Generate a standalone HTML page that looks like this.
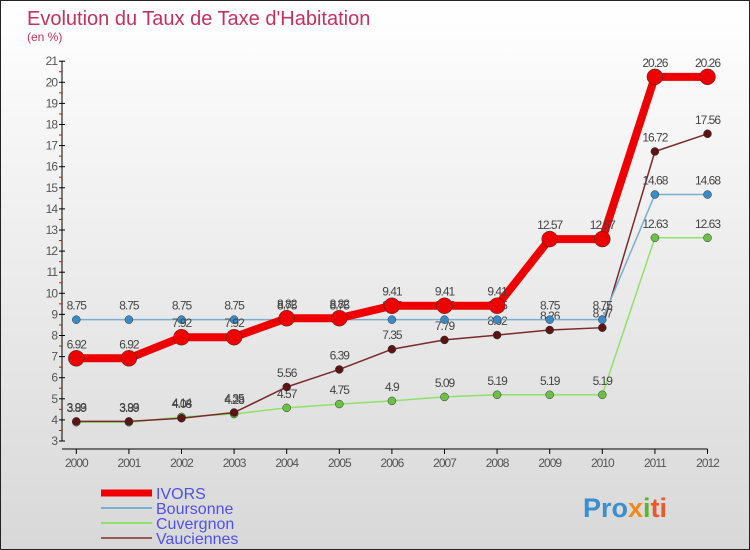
<!DOCTYPE html>
<html><head><meta charset="utf-8"><style>
body{margin:0;}
#c{width:748px;height:548px;border:1px solid #222;background:linear-gradient(#ffffff,#d8d8d8);position:relative;overflow:hidden;font-family:"Liberation Sans",sans-serif;}
</style></head><body>
<div id="c">
<svg id="s" width="748" height="548" xmlns="http://www.w3.org/2000/svg">
<text x="26" y="24" font-size="20" fill="#c2325f">Evolution du Taux de Taxe d'Habitation</text>
<text x="26" y="40" font-size="12" fill="#c2325f">(en %)</text>
<g id="axes"></g><g id="series"></g><g id="legend"></g>
<text x="582" y="516" font-size="27" font-weight="bold" fill="#3a8fd0">Pro<tspan fill="#f08a1c">x</tspan><tspan fill="#5bb531">i</tspan><tspan fill="#e85a2a">ti</tspan></text>
</svg></div>
<script>
const years=[2000,2001,2002,2003,2004,2005,2006,2007,2008,2009,2010,2011,2012];
const yTicks=[3,4,5,6,7,8,9,10,11,12,13,14,15,16,17,18,19,20,21];
const ivors=[6.92,6.92,7.92,7.92,8.82,8.82,9.41,9.41,9.41,12.57,12.57,20.26,20.26];
const boursonne=[8.75,8.75,8.75,8.75,8.75,8.75,8.75,8.75,8.75,8.75,8.75,14.68,14.68];
const cuvergnon=[3.89,3.89,4.14,4.28,4.57,4.75,4.9,5.09,5.19,5.19,5.19,12.63,12.63];
const vauciennes=[3.93,3.93,4.08,4.35,5.56,6.39,7.35,7.79,8.02,8.26,8.37,16.72,17.56];
const seriesNames=["IVORS","Boursonne","Cuvergnon","Vauciennes"];
const NS="http://www.w3.org/2000/svg";
const X=i=>75.3+i*52.6, Y=v=>440-(v-3)*21.1;
function mk(p,t,a){const e=document.createElementNS(NS,t);for(const k in a)e.setAttribute(k,a[k]);p.appendChild(e);return e;}
const ax=document.getElementById('axes'),sg=document.getElementById('series'),lg=document.getElementById('legend');
let l=mk(ax,'line',{x1:61,y1:Y(21),x2:61,y2:Y(3),stroke:'#000'});


l=mk(ax,'line',{x1:61,y1:448,x2:X(12),y2:448,stroke:'#000'});


yTicks.forEach(v=>{
 mk(ax,'line',{x1:58,y1:Y(v),x2:64,y2:Y(v),stroke:'#000'});
 if(v<21)mk(ax,'line',{x1:58,y1:Y(v+0.5),x2:61,y2:Y(v+0.5),stroke:'#e00'});
 const t=mk(ax,'text',{x:56,y:Y(v)+4,'font-size':12,fill:'#555','text-anchor':'end','letter-spacing':'-1'});t.textContent=v;
 
 
});
years.forEach((yr,i)=>{
 mk(ax,'line',{x1:X(i),y1:448,x2:X(i),y2:453,stroke:'#000'});
 const t=mk(ax,'text',{x:X(i),y:466,'font-size':12,fill:'#555','text-anchor':'middle','letter-spacing':'-1'});t.textContent=yr;
 
 
});
const defs=[[cuvergnon,'#8ee26a','#6cc04a',1.5,4],[vauciennes,'#7a2a2a','#5a1414',1.5,4],[boursonne,'#7aaed0','#3a8ac8',1.5,4],[ivors,'#ee0000','#ee0000',8,8]];
const names=['cuvergnon','vauciennes','boursonne','ivors'];
defs.forEach((d,k)=>{
 const [data,lc,pc,w,r]=d;
 const p=mk(sg,'polyline',{points:data.map((v,i)=>X(i)+','+Y(v)).join(' '),fill:'none',stroke:lc,'stroke-width':w});
 
 
 data.forEach((v,i)=>{
  const c=mk(sg,'circle',{cx:X(i),cy:Y(v),r:r,fill:pc,stroke:'#333','stroke-width':0.5});
  
  
  const t=mk(sg,'text',{x:X(i),y:Y(v)-10,'font-size':12,fill:'#444','text-anchor':'middle','letter-spacing':'-1'});t.textContent=v;
  
  
 });
});
const lcol=['#ee0000','#7aaed0','#8ee26a','#9a5a5a'],lw=[7,2,2,2];
seriesNames.forEach((n,i)=>{
 const y=492+i*15;
 mk(lg,'line',{x1:100,y1:y,x2:151,y2:y,stroke:lcol[i],'stroke-width':lw[i]});
 const t=mk(lg,'text',{x:155,y:y+6,'font-size':16,fill:'#5050e8'});t.textContent=n;
 
 
});
</script>
</body></html>
